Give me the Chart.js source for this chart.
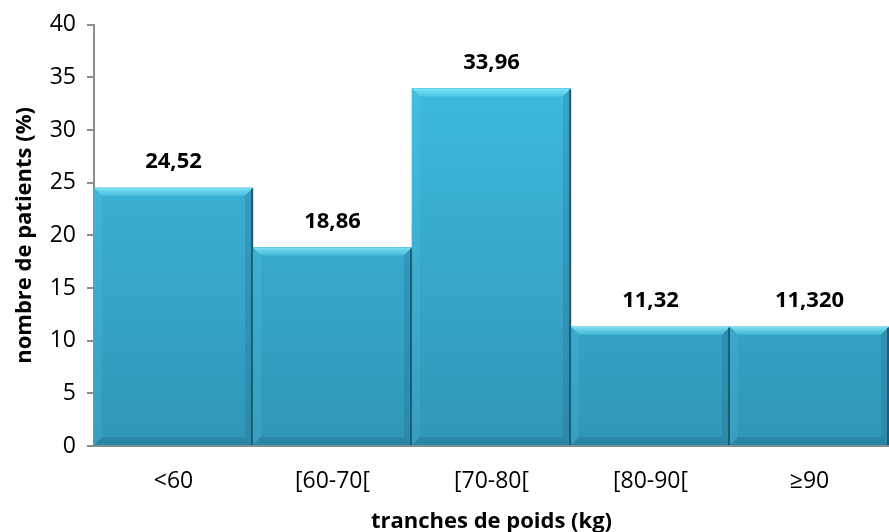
<!DOCTYPE html>
<html>
<head>
<meta charset="utf-8">
<script src="https://cdn.jsdelivr.net/npm/chart.js@4"></script>
<style>
  html, body { margin: 0; padding: 0; background: #fff; }
  canvas { display: block; }
</style>
</head>
<body>
<canvas id="chart" width="889" height="532"></canvas>
<script>
const categories = ["<60", "[60-70[", "[70-80[", "[80-90[", "≥90"];
const patientsPct = [24.52, 18.86, 33.96, 11.32, 11.32];
const valueLabels = ["24,52", "18,86", "33,96", "11,32", "11,320"];
const yTicks = [0, 5, 10, 15, 20, 25, 30, 35, 40];

const FONT = "'Open Sans', 'Liberation Sans', sans-serif";

// vertical gradient for the bar faces, rebuilt when the chart area is known
function barGradient(context) {
  const chart = context.chart;
  const area = chart.chartArea;
  if (!area) return "#3ab3d9";
  const g = chart.ctx.createLinearGradient(0, area.top, 0, area.bottom);
  g.addColorStop(0, "#3fc0e4");
  g.addColorStop(1, "#3096b7");
  return g;
}

// bevelled edges drawn over each bar
const bevelPlugin = {
  id: "bevel",
  afterDatasetsDraw(chart) {
    const ctx = chart.ctx;
    const meta = chart.getDatasetMeta(0);
    const b = 8;
    meta.data.forEach((bar) => {
      const l = bar.x - bar.width / 2;
      const r = bar.x + bar.width / 2;
      const t = bar.y;
      const btm = bar.base;
      ctx.save();
      // top edge, light
      const tg = ctx.createLinearGradient(0, t, 0, t + b);
      tg.addColorStop(0, "rgba(150,240,255,0.8)");
      tg.addColorStop(1, "rgba(110,225,250,0.3)");
      ctx.fillStyle = tg;
      ctx.beginPath();
      ctx.moveTo(l, t); ctx.lineTo(r, t); ctx.lineTo(r - b, t + b); ctx.lineTo(l + b, t + b);
      ctx.fill();
      // left edge
      ctx.fillStyle = "rgba(120,220,245,0.12)";
      ctx.beginPath();
      ctx.moveTo(l, t); ctx.lineTo(l + b, t + b); ctx.lineTo(l + b, btm - b); ctx.lineTo(l, btm);
      ctx.fill();
      // right edge
      ctx.fillStyle = "rgba(20,80,110,0.18)";
      ctx.beginPath();
      ctx.moveTo(r, t); ctx.lineTo(r, btm); ctx.lineTo(r - b, btm - b); ctx.lineTo(r - b, t + b);
      ctx.fill();
      // bottom edge
      ctx.fillStyle = "rgba(20,80,110,0.22)";
      ctx.beginPath();
      ctx.moveTo(l, btm); ctx.lineTo(r, btm); ctx.lineTo(r - b, btm - b); ctx.lineTo(l + b, btm - b);
      ctx.fill();
      // dark outline on the right side
      ctx.strokeStyle = "rgba(25,85,110,0.85)";
      ctx.lineWidth = 2;
      ctx.beginPath();
      ctx.moveTo(r - 1, t + 1); ctx.lineTo(r - 1, btm);
      ctx.stroke();
      ctx.restore();
    });
  },
};

// value labels above the bars
const valueLabelPlugin = {
  id: "valueLabels",
  afterDatasetsDraw(chart) {
    const ctx = chart.ctx;
    const meta = chart.getDatasetMeta(0);
    ctx.save();
    ctx.font = "bold 22px " + FONT;
    ctx.fillStyle = "#000";
    ctx.textAlign = "center";
    ctx.textBaseline = "middle";
    meta.data.forEach((bar, i) => {
      ctx.fillText(valueLabels[i], bar.x, bar.y - 26);
    });
    ctx.restore();
  },
};

new Chart(document.getElementById("chart"), {
  type: "bar",
  data: {
    labels: categories,
    datasets: [
      {
        data: patientsPct,
        backgroundColor: barGradient,
        borderWidth: 0,
        barPercentage: 1,
        categoryPercentage: 1,
      },
    ],
  },
  options: {
    responsive: false,
    animation: false,
    layout: { padding: { top: 20, right: 0, left: 0, bottom: 0 } },
    plugins: {
      legend: { display: false },
      tooltip: { enabled: false },
    },
    scales: {
      x: {
        grid: { display: false },
        border: { color: "#8c8c8c", width: 2 },
        ticks: { color: "#000", font: { family: FONT, size: 23 }, padding: 14 },
        title: {
          display: true,
          text: "tranches de poids (kg)",
          color: "#000",
          font: { family: FONT, size: 22, weight: "bold" },
          padding: { top: 2, bottom: -3 },
        },
        afterFit: (s) => { s.height = 86; },
      },
      y: {
        min: 0,
        max: 40,
        afterBuildTicks: (s) => { s.ticks = yTicks.map((v) => ({ value: v })); },
        grid: { drawOnChartArea: false, drawTicks: true, tickLength: 7, color: "#8c8c8c", lineWidth: 2 },
        border: { color: "#8c8c8c", width: 2 },
        ticks: { color: "#000", font: { family: FONT, size: 23 }, padding: 11 },
        title: {
          display: true,
          text: "nombre de patients (%)",
          color: "#000",
          font: { family: FONT, size: 22, weight: "bold" },
          padding: { top: 12, bottom: 0 },
        },
        afterFit: (s) => { s.width = 94; },
      },
    },
  },
  plugins: [bevelPlugin, valueLabelPlugin],
});
</script>
</body>
</html>
